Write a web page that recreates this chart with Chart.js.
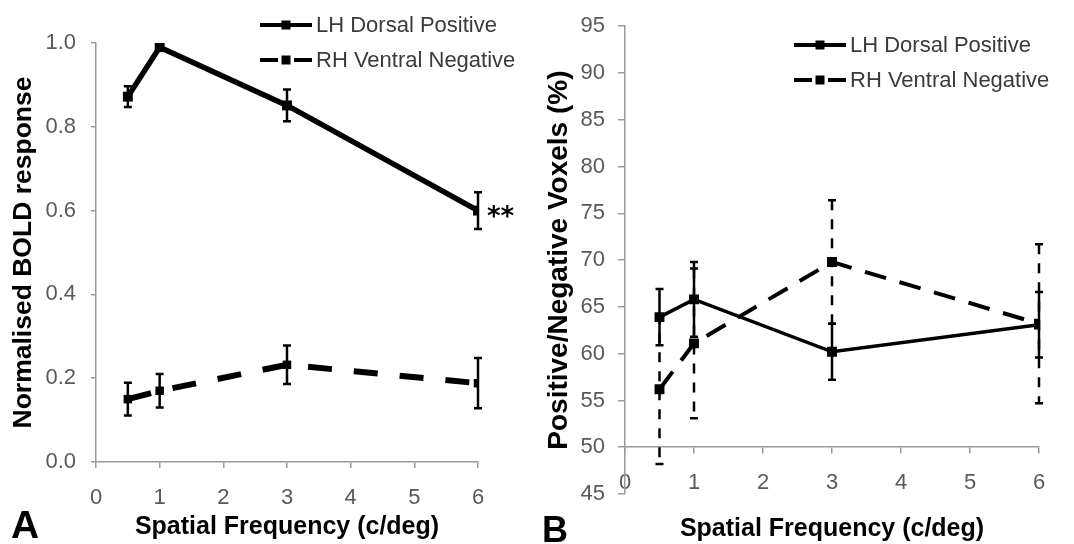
<!DOCTYPE html>
<html>
<head>
<meta charset="utf-8">
<script src="https://cdn.jsdelivr.net/npm/chart.js@4.4.0/dist/chart.umd.min.js"></script>
<style>
  html, body { margin: 0; padding: 0; background: #fff; }
  #wrap { position: relative; width: 1074px; height: 544px; }
  .panel { position: absolute; top: 0; width: 537px; height: 544px; }
</style>
</head>
<body>
<div id="wrap">
  <div class="panel" style="left:0"><canvas id="chartA"></canvas></div>
  <div class="panel" style="left:537px"><canvas id="chartB"></canvas></div>
</div>
<script>
// spatial frequencies (c/deg)
const freqs = [0.5, 1, 3, 6];
const seriesNames = ["LH Dorsal Positive", "RH Ventral Negative"];

// panel A: normalised BOLD response
const boldLH = [0.872, 0.990, 0.851, 0.600];
const boldLHErr = [0.025, 0.006, 0.038, 0.044];
const boldRH = [0.150, 0.170, 0.232, 0.188];
const boldRHErr = [0.039, 0.040, 0.046, 0.060];

// panel B: positive/negative voxels (%)
const voxLH = [63.9, 65.8, 60.2, 63.1];
const voxLHErr = [3.0, 4.0, 3.0, 3.5];
const voxRH = [56.2, 61.1, 69.8, 63.2];
const voxRHErr = [8.0, 8.0, 6.6, 8.5];

const FONT = "'Liberation Sans', Arial, sans-serif";
const TICK_COLOR = "#595959";
const AXIS_COLOR = "#9a9a9a";

function pts(ys) {
  return freqs.map((f, i) => ({ x: f, y: ys[i] }));
}

// error bars + legend + panel letter, drawn with the chart's own scales
const decoPlugin = {
  id: "deco",
  afterDatasetsDraw(chart, args, opts) {
    const ctx = chart.ctx;
    const yScale = chart.scales.y;

    chart.data.datasets.forEach((ds, i) => {
      const meta = chart.getDatasetMeta(i);
      ctx.save();
      ctx.strokeStyle = "#000";
      ctx.lineWidth = opts.errWidth;
      meta.data.forEach((pt, j) => {
        const v = ds.data[j].y, e = ds.errors[j];
        const top = yScale.getPixelForValue(v + e);
        const bot = yScale.getPixelForValue(v - e);
        ctx.setLineDash(ds.errDash || []);
        ctx.beginPath();
        ctx.moveTo(pt.x, top);
        ctx.lineTo(pt.x, bot);
        ctx.stroke();
        ctx.setLineDash([]);
        ctx.beginPath();
        ctx.moveTo(pt.x - 4, top); ctx.lineTo(pt.x + 4, top);
        ctx.moveTo(pt.x - 4, bot); ctx.lineTo(pt.x + 4, bot);
        ctx.stroke();
      });
      ctx.restore();
    });

    // legend
    ctx.save();
    chart.data.datasets.forEach((ds, i) => {
      const y = opts.legendY + i * opts.rowGap;
      const x0 = opts.legendX, x1 = opts.legendX + 52, xm = (x0 + x1) / 2;
      ctx.strokeStyle = "#000";
      ctx.fillStyle = "#000";
      ctx.lineWidth = 4;
      ctx.beginPath();
      if (ds.borderDash && ds.borderDash.length) {
        ctx.moveTo(x0, y); ctx.lineTo(xm - 8, y);
        ctx.moveTo(xm + 8, y); ctx.lineTo(x1, y);
      } else {
        ctx.moveTo(x0, y); ctx.lineTo(x1, y);
      }
      ctx.stroke();
      ctx.fillRect(xm - 4.5, y - 4.5, 9, 9);
      ctx.fillStyle = "#3a3a3a";
      ctx.font = "22px " + FONT;
      ctx.textBaseline = "middle";
      ctx.textAlign = "left";
      ctx.fillText(ds.label, x1 + 4, y + 1);
    });

    // panel letter
    ctx.fillStyle = "#000";
    ctx.font = "bold " + opts.letterSize + "px " + FONT;
    ctx.textBaseline = "alphabetic";
    ctx.fillText(opts.letter, opts.letterX, opts.letterY);

    if (opts.stars) {
      const last = chart.getDatasetMeta(0).data[freqs.length - 1];
      ctx.font = "bold 26px 'DejaVu Sans', sans-serif";
      ctx.textBaseline = "middle";
      ctx.fillText(opts.stars, last.x + 9, last.y + 8);
    }
    ctx.restore();
  }
};

function baseTicks(cb) {
  return { color: TICK_COLOR, font: { family: FONT, size: 22 }, callback: cb };
}

// ---------- panel A ----------
new Chart(document.getElementById("chartA"), {
  type: "line",
  data: {
    datasets: [
      {
        label: seriesNames[0], data: pts(boldLH), errors: boldLHErr,
        borderColor: "#000", backgroundColor: "#000", borderWidth: 5.5,
        pointStyle: "rect", pointRadius: 7, pointBorderWidth: 0, tension: 0
      },
      {
        label: seriesNames[1], data: pts(boldRH), errors: boldRHErr,
        borderColor: "#000", backgroundColor: "#000", borderWidth: 6,
        borderDash: [24, 22], pointStyle: "rect", pointRadius: 6, pointBorderWidth: 0, tension: 0
      }
    ]
  },
  options: {
    responsive: true, maintainAspectRatio: false, animation: false,
    layout: { padding: { top: 43, right: 59, left: 0, bottom: 0 } },
    scales: {
      x: {
        type: "linear", min: 0, max: 6,
        ticks: Object.assign(baseTicks(v => v), { stepSize: 1, padding: 17 }),
        grid: { drawOnChartArea: false, tickLength: 6, color: AXIS_COLOR, lineWidth: 1.5 },
        border: { color: AXIS_COLOR, width: 1.5 },
        title: { display: true, text: "Spatial Frequency (c/deg)", color: "#000",
                 font: { family: FONT, size: 25, weight: "bold" }, padding: { bottom: 2 } },
        afterFit(s) { s.height = 82; }
      },
      y: {
        min: 0, max: 1.0,
        ticks: Object.assign(baseTicks(v => v.toFixed(1)), { stepSize: 0.2, padding: 15 }),
        grid: { drawOnChartArea: false, tickLength: 5, color: AXIS_COLOR, lineWidth: 1.5 },
        border: { color: AXIS_COLOR, width: 1.5 },
        title: { display: true, text: "Normalised BOLD response", color: "#000",
                 font: { family: FONT, size: 26.5, weight: "bold" }, padding: { top: 8 } },
        afterFit(s) { s.width = 96; }
      }
    },
    plugins: {
      legend: { display: false },
      tooltip: { enabled: false },
      deco: {
        errWidth: 2.5, legendX: 260, legendY: 25, rowGap: 35,
        letter: "A", letterSize: 39, letterX: 11, letterY: 538, stars: "**"
      }
    }
  },
  plugins: [decoPlugin]
});

// ---------- panel B ----------
new Chart(document.getElementById("chartB"), {
  type: "line",
  data: {
    datasets: [
      {
        label: seriesNames[0], data: pts(voxLH), errors: voxLHErr,
        borderColor: "#000", backgroundColor: "#000", borderWidth: 3.5,
        pointStyle: "rect", pointRadius: 7, pointBorderWidth: 0, tension: 0
      },
      {
        label: seriesNames[1], data: pts(voxRH), errors: voxRHErr, errDash: [10, 9],
        borderColor: "#000", backgroundColor: "#000", borderWidth: 4,
        borderDash: [22, 14], pointStyle: "rect", pointRadius: 7, pointBorderWidth: 0, tension: 0
      }
    ]
  },
  options: {
    responsive: true, maintainAspectRatio: false, animation: false,
    layout: { padding: { top: 17, right: 35, left: 0, bottom: 50 } },
    scales: {
      x: {
        type: "linear", min: 0, max: 6, position: { y: 50 },
        ticks: Object.assign(baseTicks(v => v), { stepSize: 1, padding: 17 }),
        grid: { drawOnChartArea: false, tickLength: 6, color: AXIS_COLOR, lineWidth: 1.5 },
        border: { color: AXIS_COLOR, width: 1.5 },
        title: { display: true, text: "Spatial Frequency (c/deg)", color: "#000",
                 font: { family: FONT, size: 25, weight: "bold" }, padding: { bottom: 2 } },
        afterFit(s) { s.height = 99; }
      },
      y: {
        min: 45, max: 95,
        ticks: Object.assign(baseTicks(v => v), { stepSize: 5, padding: 13 }),
        grid: { drawOnChartArea: false, tickLength: 7, color: AXIS_COLOR, lineWidth: 1.5 },
        border: { color: AXIS_COLOR, width: 1.5 },
        title: { display: true, text: "Positive/Negative Voxels (%)", color: "#000",
                 font: { family: FONT, size: 28, weight: "bold" }, padding: { top: 5 } },
        afterFit(s) { s.width = 88; }
      }
    },
    plugins: {
      legend: { display: false },
      tooltip: { enabled: false },
      deco: {
        errWidth: 2.5, legendX: 257, legendY: 45, rowGap: 35,
        letter: "B", letterSize: 36, letterX: 5, letterY: 542
      }
    }
  },
  plugins: [decoPlugin]
});
</script>
</body>
</html>
